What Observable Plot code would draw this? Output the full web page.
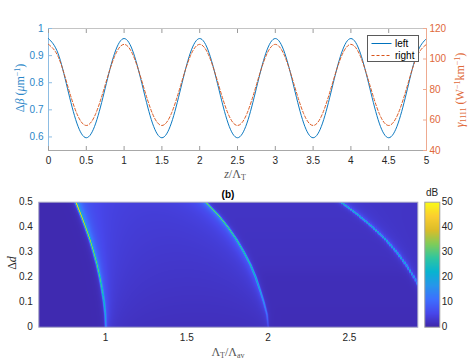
<!DOCTYPE html>
<html><head><meta charset="utf-8">
<script src="https://cdn.jsdelivr.net/npm/d3@7"></script>
<script src="https://cdn.jsdelivr.net/npm/@observablehq/plot@0.6"></script>
<style>
body{margin:0;background:#fff;font-family:"Liberation Sans",Arial,sans-serif;}
#root{position:relative;width:469px;height:361px;overflow:hidden;background:#fff;}
#root svg{position:absolute;left:0;}
.t{position:absolute;white-space:nowrap;line-height:1;}
.tex{font-family:"Liberation Serif","DejaVu Serif",serif;font-size:12px;}
.tex sub,.tex sup{font-size:8px;line-height:0;}
.tex sub{vertical-align:-0.2em;}
.tex sup{vertical-align:0.45em;}
</style></head><body><div id="root"></div>
<script>
// ---------- top panel data ----------
const zPos = [0,0.125,0.25,0.375,0.5,0.625,0.75,0.875,1,1.125,1.25,1.375,1.5,1.625,1.75,1.875,2,2.125,2.25,2.375,2.5,2.625,2.75,2.875,3,3.125,3.25,3.375,3.5,3.625,3.75,3.875,4,4.125,4.25,4.375,4.5,4.625,4.75,4.875,5];
const leftDeltaBeta = [0.963,0.909,0.780,0.651,0.597,0.651,0.780,0.909,
  0.963,0.909,0.780,0.651,0.597,0.651,0.780,0.909,
  0.963,0.909,0.780,0.651,0.597,0.651,0.780,0.909,
  0.963,0.909,0.780,0.651,0.597,0.651,0.780,0.909,
  0.963,0.909,0.780,0.651,0.597,0.651,0.780,0.909,0.963];
const rightGamma = [109.6,101.8,83.0,64.2,56.4,64.2,83.0,101.8,
  109.6,101.8,83.0,64.2,56.4,64.2,83.0,101.8,
  109.6,101.8,83.0,64.2,56.4,64.2,83.0,101.8,
  109.6,101.8,83.0,64.2,56.4,64.2,83.0,101.8,
  109.6,101.8,83.0,64.2,56.4,64.2,83.0,101.8,109.6];
const topXTicks = [0,0.5,1,1.5,2,2.5,3,3.5,4,4.5,5];
const leftTicks = [0.6,0.7,0.8,0.9,1];
const rightTicks = [40,60,80,100,120];
const legendLabels = ["left","right"];

// ---------- bottom panel data ----------
const dLevels   = [0,0.05,0.1,0.15,0.2,0.25,0.3,0.35,0.4,0.45,0.5];
const ridge1X   = [1.000,0.997,0.989,0.977,0.963,0.946,0.925,0.902,0.875,0.846,0.815];
const ridge2X   = [2.000,1.992,1.972,1.948,1.922,1.890,1.850,1.805,1.752,1.690,1.615];
const ridge3X   = [3.000,2.993,2.972,2.937,2.894,2.845,2.788,2.720,2.639,2.548,2.445];
const ridge1dB  = [10,14,17,19,21,22,23,24,25,27,29];
const ridge2dB  = [3,8,12,15,17,19,20,21,23,25,27];
const ridge3dB  = [6,8,10,12,14,16,17,18,19,20,21];
const bgLeftdB  = [0.7,0.7,0.7,0.7,0.7,0.7,0.7,0.7,0.7,0.7,0.7];
const bgMiddB   = [1.6,1.8,2.0,2.2,2.4,2.6,2.8,3.0,3.2,3.4,3.6];
const bgRightdB = [1.2,1.2,1.3,1.3,1.4,1.8,2.0,2.1,2.2,2.3,2.4];
const heatXTicks = [1,1.5,2,2.5];
const heatYTicks = [0,0.1,0.2,0.3,0.4,0.5];
const cbTicks = [0,10,20,30,40,50];
const parula = ["#3e26a8","#4747eb","#3e6fff","#2796eb","#08b4d0","#31c69f","#81cc59","#dcbd29","#fccf30","#f9fb15"];

const blue = "#0072BD", orange = "#D95319", ink = "#262626";
const fmt = d => String(d);
const root = document.getElementById("root");
const baseStyle = {background: "transparent", fontFamily: "Liberation Sans, Arial, sans-serif", fontSize: "10px", overflow: "visible", color: ink};

// ---------- top panel: left axis ----------
const topData = zPos.map((z, i) => ({z, left: leftDeltaBeta[i], right: rightGamma[i]}));
const topCommon = {width: 469, height: 180, marginLeft: 48, marginRight: 43, marginTop: 28, marginBottom: 30, style: baseStyle};
const topLeft = Plot.plot({
  ...topCommon,
  x: {domain: [0, 5], label: null},
  y: {domain: [0.55, 1], label: null},
  marks: [
    Plot.ruleY([0.55], {stroke: "#a8a8a8"}),
    Plot.ruleY([1], {stroke: "#c4c4c4"}),
    Plot.ruleX([0], {stroke: "#8dbde3"}),
    Plot.axisX({ticks: topXTicks, tickFormat: fmt, tickSize: -4, tickPadding: 10, stroke: "#9a9a9a", fill: ink, label: null}),
    Plot.axisX({anchor: "top", ticks: topXTicks, tickSize: -4, tickFormat: () => "", stroke: "#9a9a9a", label: null}),
    Plot.axisY({ticks: leftTicks, tickFormat: fmt, tickSize: -4, tickPadding: 9, stroke: "#8dbde3", fill: "#2a86c8", label: null}),
    Plot.line(topData, {x: "z", y: "left", stroke: blue, strokeWidth: 0.95, curve: "natural"})
  ]
});
topLeft.style.top = "0px";
root.appendChild(topLeft);

// ---------- top panel: right axis ----------
const topRight = Plot.plot({
  ...topCommon,
  x: {domain: [0, 5], label: null, axis: null},
  y: {domain: [40, 120], label: null},
  marks: [
    Plot.ruleX([5], {stroke: "#eeaa90"}),
    Plot.axisY({anchor: "right", ticks: rightTicks, tickFormat: fmt, tickSize: -4, tickPadding: 7, stroke: "#eeaa90", fill: "#e0693a", label: null}),
    Plot.line(topData, {x: "z", y: "right", stroke: orange, strokeWidth: 0.95, strokeDasharray: "3,2", curve: "natural"})
  ]
});
topRight.style.top = "0px";
root.appendChild(topRight);

// ---------- bottom panel: heatmap field built from the ridge arrays ----------
const xMin = 0.59, xMax = 2.92, W = 379, H = 125;
function at(arr, d) {
  const t = Math.max(0, Math.min(d, 0.5)) / 0.05;
  const i = Math.min(Math.floor(t), arr.length - 2), f = t - i;
  return arr[i] * (1 - f) + arr[i + 1] * f;
}
function ridge(x, r, p, w) {
  const dx = x - r;
  const q = dx / w;
  return p * Math.exp(-(q * q)) + 0.25 * p * Math.exp(-Math.abs(dx) / 0.013);
}
function field(x, d) {
  const r1 = at(ridge1X, d), r2 = at(ridge2X, d), r3 = at(ridge3X, d);
  const s = d / 0.5;
  let v;
  if (x < r1) v = at(bgLeftdB, d);
  else if (x < r2) v = at(bgMiddB, d)
                     + (2 + 6 * s) * Math.exp(-(x - r1) / 0.03)
                     + (1 + 2.5 * s) * Math.exp(-(x - r1) / 0.1)
                     + (0.3 + 1.2 * s) * Math.exp(-(x - r1) / 0.3)
                     + (0.5 + 5 * s) * Math.exp(-(r2 - x) / 0.035)
                     + (0.3 + 2.5 * s) * Math.exp(-(r2 - x) / 0.15);
  else if (x < r3) v = at(bgRightdB, d) + (0.5 + 1.5 * s) * Math.exp(-(r3 - x) / 0.02);
  else v = at(bgRightdB, d) + (0.8 + 2 * s) * Math.exp(-(x - r3) / 0.03) + (0.3 + 1.2 * s) * Math.exp(-(x - r3) / 0.12);
  // the third ridge is sampled on a coarse grid, which gives its dotted look
  const xq = Math.round(x / 0.011) * 0.011;
  return v + ridge(x, r1, at(ridge1dB, d), 0.0055) + ridge(x, r2, at(ridge2dB, d), 0.005)
           + ridge(xq, r3, at(ridge3dB, d), 0.005);
}
const heat = [];
for (let j = 0; j < H; ++j) {
  for (let i = 0; i < W; ++i) {
    let sum = 0;
    for (let a = 0; a < 3; ++a) for (let b = 0; b < 3; ++b) {
      const x = xMin + (i + (a + 0.5) / 3) / W * (xMax - xMin);
      const d = 0.5 - (j + (b + 0.5) / 3) / H * 0.5;
      sum += field(x, d);
    }
    heat.push(sum / 9);
  }
}
const colorScale = {type: "linear", domain: [0, 50], interpolate: d3.piecewise(d3.interpolateRgb, parula), clamp: true};
const bottomCommon = {width: 469, height: 191, marginTop: 31.7, marginBottom: 34.3, style: baseStyle};
const heatPlot = Plot.plot({
  ...bottomCommon,
  marginLeft: 38.3, marginRight: 51.7,
  x: {domain: [xMin, xMax], label: null},
  y: {domain: [0, 0.5], label: null},
  color: colorScale,
  marks: [
    Plot.raster(heat, {width: W, height: H, x1: xMin, x2: xMax, y1: 0.5, y2: 0, imageRendering: "pixelated"}),
    Plot.frame({stroke: "#a3a3c4"}),
    Plot.axisX({ticks: heatXTicks, tickFormat: fmt, tickSize: 0, tickPadding: 6.5, fill: ink, label: null}),
    Plot.axisY({ticks: heatYTicks, tickFormat: fmt, tickSize: 0, tickPadding: 6, fill: ink, label: null})
  ]
});
heatPlot.style.top = "170px";
root.appendChild(heatPlot);

// ---------- colorbar ----------
const cbH = 125;
const cbVals = [];
for (let j = 0; j < cbH; ++j) cbVals.push(50 - (j + 0.5) / cbH * 50);
const cbPlot = Plot.plot({
  ...bottomCommon,
  marginLeft: 424.3, marginRight: 29.7,
  x: {domain: [0, 1], axis: null},
  y: {domain: [0, 50], label: null},
  color: colorScale,
  marks: [
    Plot.raster(cbVals, {width: 1, height: cbH, x1: 0, x2: 1, y1: 50, y2: 0}),
    Plot.frame({stroke: "#a0a0a0"}),
    Plot.axisY({anchor: "right", ticks: cbTicks, tickFormat: fmt, tickSize: 0, tickPadding: 2, fill: ink, label: null})
  ]
});
cbPlot.style.top = "170px";
root.appendChild(cbPlot);

// ---------- text labels ----------
function addText(html, cx, cy, cls, style = {}, rotate = false) {
  const el = document.createElement("div");
  el.className = "t " + cls;
  el.innerHTML = html;
  Object.assign(el.style, {left: cx + "px", top: cy + "px",
    transform: "translate(-50%,-50%)" + (rotate ? " rotate(-90deg)" : "")}, style);
  root.appendChild(el);
}
addText("Δ<i>β</i> (<i>μ</i>m<sup>−1</sup>)", 19.5, 88, "tex", {color: "#2a86c8"}, true);
addText("<i>γ</i><sub>1111</sub> (W<sup>−1</sup>km<sup>−1</sup>)", 459.5, 90, "tex", {color: "#e0693a"}, true);
addText("<i>z</i>/Λ<sub>T</sub>", 235, 173.5, "tex", {color: "#555"});
addText("<b>(b)</b>", 228, 195, "", {fontSize: "10px", color: "#000"});
addText("dB", 432, 193, "", {fontSize: "10px", color: ink});
addText("Δ<i>d</i>", 11.5, 263, "tex", {color: ink}, true);
addText("Λ<sub>T</sub>/Λ<sub>av</sub>", 228, 352, "tex", {color: "#555"});

// ---------- legend ----------
const lg = document.createElement("div");
Object.assign(lg.style, {position: "absolute", left: "367px", top: "34.5px", width: "52px", height: "27px",
  border: "1px solid #5a5a5a", background: "#fff", boxSizing: "border-box", fontSize: "10px", color: "#000"});
legendLabels.forEach((name, k) => {
  const row = document.createElement("div");
  Object.assign(row.style, {position: "absolute", left: "3px", top: (k === 0 ? 2.5 : 14.5) + "px", height: "11px", display: "flex", alignItems: "center"});
  row.innerHTML = `<svg width="21" height="11" style="position:static"><line x1="0.5" x2="20.5" y1="5.5" y2="5.5" stroke="${k === 0 ? blue : orange}" stroke-width="1" ${k === 1 ? 'stroke-dasharray="3,2"' : ''}/></svg><span style="margin-left:3px">${name}</span>`;
  lg.appendChild(row);
});
root.appendChild(lg);
</script></body></html>
